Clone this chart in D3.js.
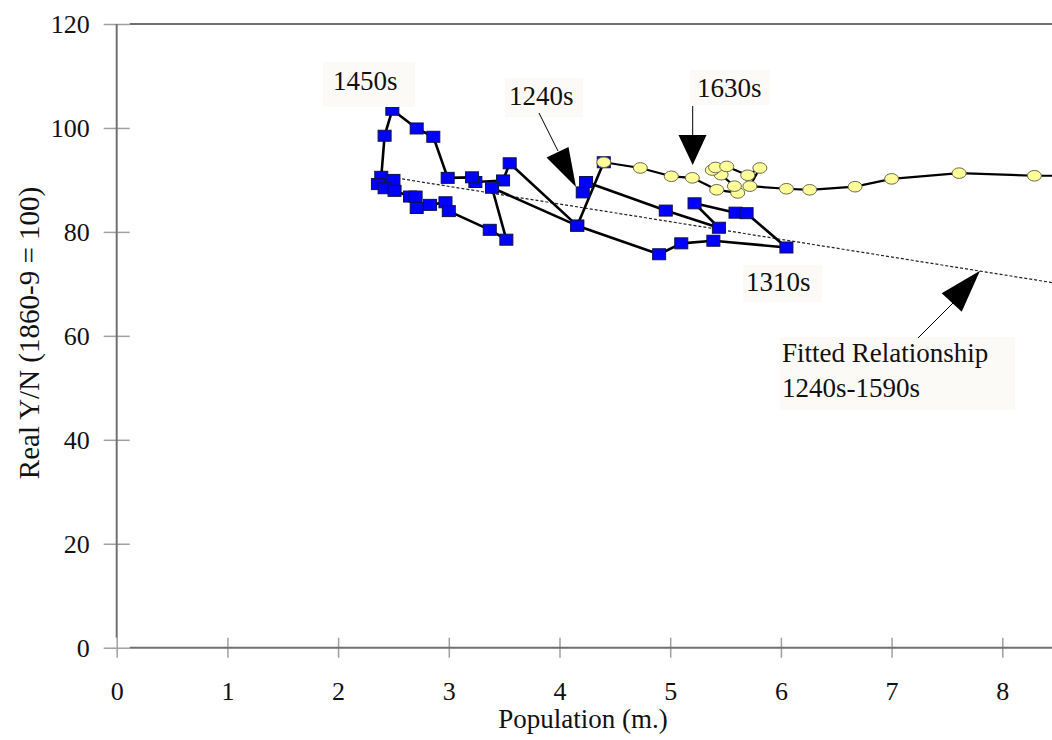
<!DOCTYPE html>
<html>
<head>
<meta charset="utf-8">
<script src="https://cdn.jsdelivr.net/npm/d3@7"></script>
<style>
body { margin: 0; background: #fff; }
svg text { font-family: "Liberation Serif", "DejaVu Serif", serif; fill: #111; }
</style>
</head>
<body>
<svg></svg>
<script>
// blue squares: population (m.) / real Y/N, traced in path order
let bluePop  = [4.21, 4.24, 4.96, 5.44, 5.22, 5.59, 5.69, 6.05, 5.39, 5.10, 4.90, 4.16,
                3.55, 3.49, 3.24, 3.21, 2.99, 2.86, 2.71, 2.49, 2.42,
                2.39, 2.50, 2.36, 2.42, 2.51, 2.65, 2.70, 2.71, 2.83, 2.97, 3.00,
                3.37, 3.52, 3.39, 4.16, 4.40]
let blueWage = [87.6, 89.6, 84.1, 80.8, 85.5, 83.7, 83.6, 77.0, 78.3, 77.8, 75.7, 81.2,
                93.2, 89.9, 89.6, 90.5, 90.4, 98.3, 99.9, 103.5, 98.5,
                90.6, 90.0, 89.2, 88.4, 87.9, 86.8, 86.8, 84.6, 85.2, 85.7, 84.0,
                80.4, 78.5, 88.5, 81.2, 93.4]

// yellow circles: the later decades
let yellowPop  = [4.40, 4.73, 5.01, 5.20, 5.42, 5.61, 5.58, 5.46, 5.38, 5.41, 5.51,
                  5.70, 5.81, 5.72, 6.05, 6.26, 6.67, 7.00, 7.61, 8.29, 8.70]
let yellowWage = [93.4, 92.3, 90.7, 90.4, 88.1, 87.5, 88.8, 91.0, 91.9, 92.4, 92.6,
                  90.9, 92.3, 88.8, 88.3, 88.1, 88.7, 90.2, 91.3, 90.8, 90.8]

// fitted relationship 1240s-1590s
let fitPop  = [2.4, 8.7]
let fitWage = [90.8, 69.4]

let xTicks = [0, 1, 2, 3, 4, 5, 6, 7, 8]
let yTicks = [0, 20, 40, 60, 80, 100, 120]

let width = 1052
let height = 740
let serif = '"Liberation Serif", "DejaVu Serif", serif'

let svg = d3.select('svg')
    .attr('width', width)
    .attr('height', height)

svg.append('rect')
    .attr('width', width)
    .attr('height', height)
    .attr('fill', '#fff')

let xScale = d3.scaleLinear().domain([0, 10]).range([116.7, 1223.7])
let yScale = d3.scaleLinear().domain([0, 120]).range([647.7, 24])

// axes
let yAxis = d3.axisLeft(yScale).tickValues(yTicks).tickSize(13).tickPadding(14)
let xAxis = d3.axisBottom(xScale).tickValues(xTicks).tickSize(10).tickPadding(24)

let gy = svg.append('g')
    .attr('transform', 'translate(' + xScale(0) + ',0)')
    .call(yAxis)
    .attr('font-family', serif)
gy.select('.domain').remove()
gy.selectAll('.tick line').attr('x1', 13).attr('stroke', '#a0a0a0').attr('stroke-width', 1.5)
gy.selectAll('.tick text').attr('font-size', 26).attr('dy', '0.32em')

let gx = svg.append('g')
    .attr('transform', 'translate(0,' + yScale(0) + ')')
    .call(xAxis)
    .attr('font-family', serif)
gx.select('.domain').remove()
gx.selectAll('.tick line').attr('y1', -10).attr('stroke', '#a0a0a0').attr('stroke-width', 1.5)
gx.selectAll('.tick text').attr('font-size', 26)

// frame lines
svg.append('line')
    .attr('x1', xScale(0)).attr('x2', xScale(0))
    .attr('y1', yScale(120)).attr('y2', yScale(0) - 10)
    .attr('stroke', '#707070').attr('stroke-width', 2)
svg.append('line')
    .attr('x1', xScale(0) + 13).attr('x2', width)
    .attr('y1', yScale(0)).attr('y2', yScale(0))
    .attr('stroke', '#707070').attr('stroke-width', 2)
svg.append('line')
    .attr('x1', xScale(0) + 13).attr('x2', width)
    .attr('y1', yScale(120)).attr('y2', yScale(120))
    .attr('stroke', '#707070').attr('stroke-width', 2)

// axis titles
svg.append('text')
    .attr('x', 583).attr('y', 728)
    .attr('text-anchor', 'middle')
    .attr('font-size', 27)
    .text('Population (m.)')

svg.append('text')
    .attr('transform', 'translate(39,333) rotate(-90)')
    .attr('text-anchor', 'middle')
    .attr('font-size', 29)
    .text('Real Y/N (1860-9 = 100)')

let fitData = d3.zip(fitPop, fitWage)
let blueData = d3.zip(bluePop, blueWage)
let yellowData = d3.zip(yellowPop, yellowWage)

let line = d3.line()
    .x(d => xScale(d[0]))
    .y(d => yScale(d[1]))

svg.append('path')
    .attr('d', line(fitData))
    .attr('fill', 'none')
    .attr('stroke', '#222')
    .attr('stroke-width', 1.2)
    .attr('stroke-dasharray', '3,2')

svg.append('path')
    .attr('d', line(blueData))
    .attr('fill', 'none')
    .attr('stroke', '#000')
    .attr('stroke-width', 2.6)
    .attr('stroke-linejoin', 'round')

svg.append('path')
    .attr('d', line(yellowData))
    .attr('fill', 'none')
    .attr('stroke', '#000')
    .attr('stroke-width', 2.2)
    .attr('stroke-linejoin', 'round')

svg.selectAll('rect.blue')
    .data(blueData)
    .enter()
    .append('rect')
    .attr('class', 'blue')
    .attr('x', d => xScale(d[0]) - 6.5)
    .attr('y', d => yScale(d[1]) - 5.5)
    .attr('width', 13)
    .attr('height', 11)
    .attr('fill', '#0000ff')
    .attr('stroke', '#10104a')
    .attr('stroke-width', 1)

svg.selectAll('ellipse.yellow')
    .data(yellowData)
    .enter()
    .append('ellipse')
    .attr('class', 'yellow')
    .attr('cx', d => xScale(d[0]))
    .attr('cy', d => yScale(d[1]))
    .attr('rx', 7)
    .attr('ry', 5.3)
    .attr('fill', '#ffff99')
    .attr('stroke', '#6a6a50')
    .attr('stroke-width', 1)

// annotations
let notes = [
    { box: [323, 62, 92, 45], lines: ['1450s'], x: 333, y: 90 },
    { box: [505, 78, 78, 39], lines: ['1240s'], x: 509, y: 105 },
    { box: [690, 70, 80, 35], lines: ['1630s'], x: 697, y: 97 },
    { box: [743, 265, 79, 37], lines: ['1310s'], x: 746, y: 291 },
    { box: [780, 337, 235, 73], lines: ['Fitted Relationship', '1240s-1590s'], x: 782, y: 362 }
]

notes.forEach(n => {
    svg.append('rect')
        .attr('x', n.box[0]).attr('y', n.box[1])
        .attr('width', n.box[2]).attr('height', n.box[3])
        .attr('fill', '#fbfaf7')
    n.lines.forEach((t, i) => {
        svg.append('text')
            .attr('x', n.x).attr('y', n.y + i * 35)
            .attr('font-size', 27)
            .text(t)
    })
})

let arrows = [
    { from: [539, 113], to: [558, 151], head: [[546.5, 157.5], [568.5, 147], [576, 187]] },
    { from: [692.7, 106], to: [692.7, 136], head: [[678.5, 135], [706.5, 135], [692.7, 165]] },
    { from: [918, 338], to: [953, 303], head: [[941.7, 293.3], [961.7, 311.7], [980, 270.7]] }
]

arrows.forEach(a => {
    svg.append('line')
        .attr('x1', a.from[0]).attr('y1', a.from[1])
        .attr('x2', a.to[0]).attr('y2', a.to[1])
        .attr('stroke', '#000').attr('stroke-width', 1)
    svg.append('polygon')
        .attr('points', a.head.map(p => p.join(',')).join(' '))
        .attr('fill', '#000')
})
</script>
</body>
</html>
